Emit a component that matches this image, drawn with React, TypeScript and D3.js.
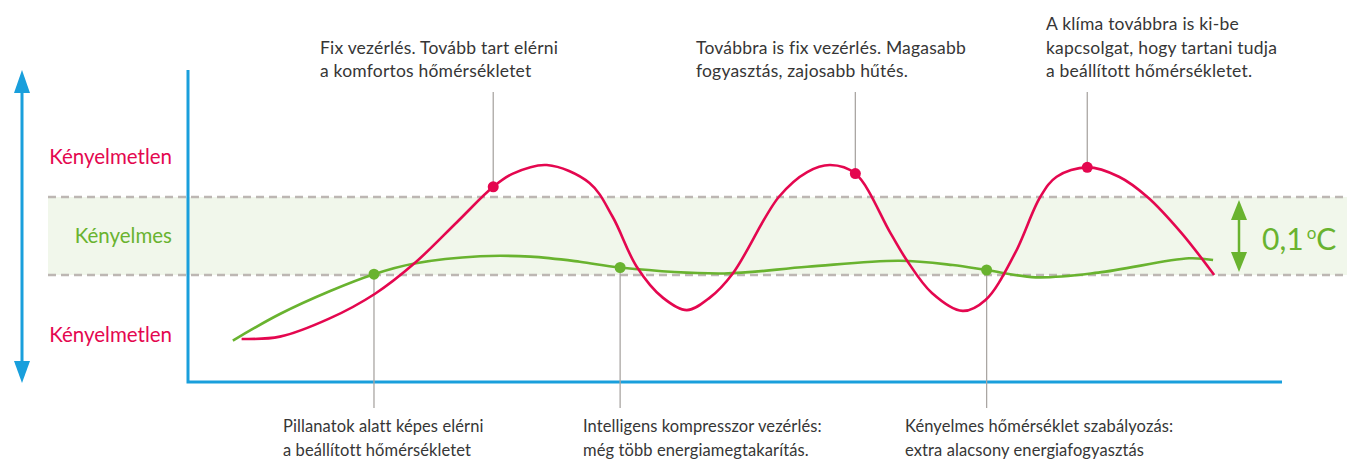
import React from 'react';
import * as d3 from 'd3';

// time (arbitrary 0-100 scale) and temperature deviation (°C, comfort band 0..0.1)
const redTime = [4.9, 8.4, 12.9, 17.1, 20.7, 24.6, 27.9, 29.7, 32.8, 36.7, 38.8, 41.0, 43.4, 45.6, 47.7, 49.8, 54.0, 56.6, 58.7, 61.0, 64.2, 65.7, 68.0, 70.8, 72.9, 75.6, 77.9, 79.4, 82.2, 85.1, 87.7, 90.8, 93.8];
const redTemp = [-0.082, -0.079, -0.056, -0.024, 0.015, 0.068, 0.113, 0.130, 0.141, 0.118, 0.075, 0.011, -0.029, -0.045, -0.029, 0.002, 0.100, 0.132, 0.141, 0.130, 0.054, 0.019, -0.023, -0.046, -0.032, 0.028, 0.100, 0.126, 0.138, 0.126, 0.100, 0.054, 0.000];
const redMarkers = [6, 19, 28];

const greenTime = [4.1, 8.4, 13.0, 17.0, 20.7, 26.7, 31.3, 35.8, 39.5, 49.0, 56.6, 65.0, 69.9, 73.0, 77.5, 83.2, 91.5, 93.7];
const greenTemp = [-0.084, -0.050, -0.0205, 0.001, 0.0147, 0.024, 0.0235, 0.017, 0.0096, 0.002, 0.0106, 0.0183, 0.0128, 0.0064, -0.003, 0.003, 0.0214, 0.0192];
const greenMarkers = [3, 8, 13];

const bandLow = 0;
const bandHigh = 0.1;
const bandLabel = '0,1';
const bandUnit = 'C';

const levelLabels = ['Kényelmetlen', 'Kényelmes', 'Kényelmetlen'];

const topNotes = [
  ['Fix vezérlés. Tovább tart elérni', 'a komfortos hőmérsékletet'],
  ['Továbbra is fix vezérlés. Magasabb', 'fogyasztás, zajosabb hűtés.'],
  ['A klíma továbbra is ki-be', 'kapcsolgat, hogy tartani tudja', 'a beállított hőmérsékletet.'],
];
const bottomNotes = [
  ['Pillanatok alatt képes elérni', 'a beállított hőmérsékletet'],
  ['Intelligens kompresszor vezérlés:', 'még több energiamegtakarítás.'],
  ['Kényelmes hőmérséklet szabályozás:', 'extra alacsony energiafogyasztás'],
];

const W = 1347;
const H = 460;
const RED = '#e4074f';
const GREEN = '#69b32f';
const BLUE = '#199fdc';
const TEXT = '#363636';
const LEAD = '#aaa6a3';
const DASH = '#bdb7b3';
const FONT = 'Lato, "Open Sans", sans-serif';

export default function App() {
  const x = d3.scaleLinear().domain([0, 100]).range([188, 1282]);
  const y = d3.scaleLinear().domain([bandLow, bandHigh]).range([275, 197]);

  const redPts: [number, number][] = redTime.map((t, i) => [x(t), y(redTemp[i])]);
  const greenPts: [number, number][] = greenTime.map((t, i) => [x(t), y(greenTemp[i])]);
  const curveGen = d3.line().curve(d3.curveCatmullRom.alpha(0.5));

  const [x0, x1] = x.range();
  const axisTop = 70;
  const axisBottom = 382;

  const topAnchors = [320, 696, 1046];
  const bottomAnchors = [283, 583, 905];
  const lh = 23.5;

  const arrowX = 22;
  const gx = 1239;
  const yHi = y(bandHigh);
  const yLo = y(bandLow);

  return (
    <svg
      width={W}
      height={H}
      viewBox={`0 0 ${W} ${H}`}
      style={{ position: 'absolute', left: 0, top: 0, display: 'block', background: '#fff' }}
      fontFamily={FONT}
    >
      {/* comfort band */}
      <rect x={48} y={yHi} width={W - 48} height={yLo - yHi} fill="#f1f7eb" />
      <line x1={48} x2={W} y1={yHi} y2={yHi} stroke={DASH} strokeWidth={2.5} strokeDasharray="8 5" />
      <line x1={48} x2={W} y1={yLo} y2={yLo} stroke={DASH} strokeWidth={2.5} strokeDasharray="8 5" />

      {/* left double arrow */}
      <line x1={arrowX} x2={arrowX} y1={88} y2={366} stroke={BLUE} strokeWidth={3} />
      <path d={`M${arrowX},70 L${arrowX - 8},93 L${arrowX + 8},93 Z`} fill={BLUE} />
      <path d={`M${arrowX},383 L${arrowX - 8},361 L${arrowX + 8},361 Z`} fill={BLUE} />

      {/* level labels */}
      <text x={172} y={164} textAnchor="end" fontSize={20.5} fill={RED}>{levelLabels[0]}</text>
      <text x={172} y={(yHi + yLo) / 2 + 7} textAnchor="end" fontSize={20.5} fill={GREEN}>{levelLabels[1]}</text>
      <text x={172} y={342} textAnchor="end" fontSize={20.5} fill={RED}>{levelLabels[2]}</text>

      {/* axes */}
      <path d={`M${x0},${axisTop} V${axisBottom} H${x1}`} fill="none" stroke={BLUE} strokeWidth={3} />

      {/* leader lines */}
      {redMarkers.map((idx, k) => (
        <line key={'rl' + k} x1={redPts[idx][0]} x2={redPts[idx][0]} y1={92} y2={redPts[idx][1]} stroke={LEAD} strokeWidth={1.3} />
      ))}
      {greenMarkers.map((idx, k) => (
        <line key={'gl' + k} x1={greenPts[idx][0]} x2={greenPts[idx][0]} y1={greenPts[idx][1]} y2={408} stroke={LEAD} strokeWidth={1.3} />
      ))}

      {/* curves */}
      <path d={curveGen(greenPts) || ''} fill="none" stroke={GREEN} strokeWidth={2.6} />
      <path d={curveGen(redPts) || ''} fill="none" stroke={RED} strokeWidth={2.6} />

      {redMarkers.map((idx, k) => (
        <circle key={'rm' + k} cx={redPts[idx][0]} cy={redPts[idx][1]} r={5.5} fill={RED} />
      ))}
      {greenMarkers.map((idx, k) => (
        <circle key={'gm' + k} cx={greenPts[idx][0]} cy={greenPts[idx][1]} r={5.5} fill={GREEN} />
      ))}

      {/* band size arrow */}
      <line x1={gx} x2={gx} y1={yHi + 16} y2={yLo - 16} stroke={GREEN} strokeWidth={2.5} />
      <path d={`M${gx},${yHi + 3} L${gx - 8},${yHi + 23} L${gx + 8},${yHi + 23} Z`} fill={GREEN} />
      <path d={`M${gx},${yLo - 3} L${gx - 8},${yLo - 23} L${gx + 8},${yLo - 23} Z`} fill={GREEN} />
      <text x={1262} y={250} fontSize={30} fill={GREEN}>
        {bandLabel}
        <tspan dx={3} dy={-11} fontSize={17}>o</tspan>
        <tspan dx={0} dy={11} fontSize={30}>{bandUnit}</tspan>
      </text>

      {/* top notes */}
      {topNotes.map((lines, k) => (
        <text key={'tn' + k} x={topAnchors[k]} fontSize={17.5} letterSpacing={0.2} fill={TEXT}>
          {lines.map((s, j) => (
            <tspan key={j} x={topAnchors[k]} y={77 - (lines.length - 1 - j) * lh}>{s}</tspan>
          ))}
        </text>
      ))}

      {/* bottom notes */}
      {bottomNotes.map((lines, k) => (
        <text key={'bn' + k} x={bottomAnchors[k]} fontSize={16.5} letterSpacing={0.1} fill={TEXT}>
          {lines.map((s, j) => (
            <tspan key={j} x={bottomAnchors[k]} y={432 + j * lh}>{s}</tspan>
          ))}
        </text>
      ))}
    </svg>
  );
}
